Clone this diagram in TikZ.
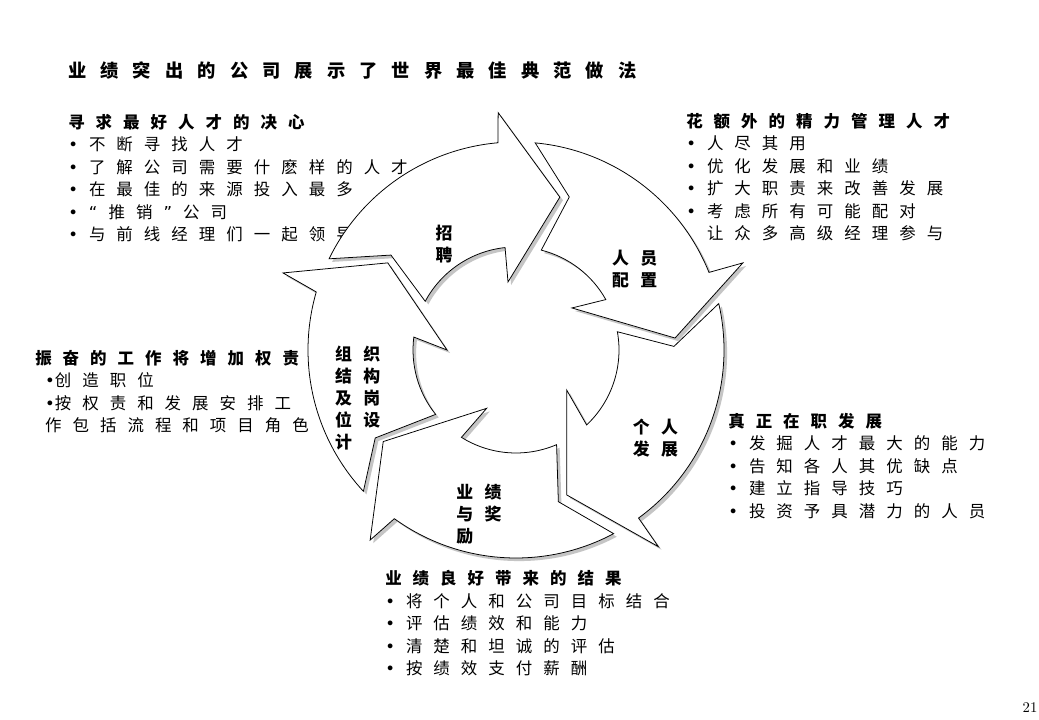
\documentclass[tikz,border=0pt]{standalone}
\usepackage{fontspec}
\newfontfamily\cjk{Noto Sans CJK SC}
\newfontfamily\symfont{DejaVu Sans}
\newcommand\bulletmark{{\symfont •}}
\usetikzlibrary{shadows}
\tikzset{
cyc arrow/.style={draw=black, line width=0.55pt, fill=white, line join=miter,
  drop shadow={shadow xshift=2.2pt, shadow yshift=-2.2pt, fill=black!45}},
blk/.style={anchor=north west, inner sep=0pt, align=left,
  font={\fontsize{11.7}{16}\cjk\spaceskip=0.67em\relax}},
ttl/.style={anchor=north west, inner sep=0pt,
  font={\fontsize{13}{16}\cjk\bfseries\spaceskip=0.77em\relax}},
lbl/.style={inner sep=0pt, align=left,
  font={\fontsize{12}{15.6}\cjk\bfseries\spaceskip=0.68em\relax}},
}

\begin{document}
\begin{tikzpicture}[x=0.025cm, y=0.025cm]
\useasboundingbox[fill=white] (0,0) rectangle (1039,720);

\node[ttl] (title) at (68,659) {业 绩 突 出 的 公 司 展 示 了 世 界 最 佳 典 范 做 法};

\node[blk] (seek) at (68,606) {\textbf{寻 求 最 好 人 才 的 决 心}\\
\bulletmark{} 不 断 寻 找 人 才\\
\bulletmark{} 了 解 公 司 需 要 什 麽 样 的 人 才\\
\bulletmark{} 在 最 佳 的 来 源 投 入 最 多\\
\bulletmark{} {\symfont “} 推 销 {\symfont ”} 公 司\\
\bulletmark{} 与 前 线 经 理 们 一 起 领 导};

\node[blk] (extra) at (686,607) {\textbf{花 额 外 的 精 力 管 理 人 才}\\
\bulletmark{} 人 尽 其 用\\
\bulletmark{} 优 化 发 展 和 业 绩\\
\bulletmark{} 扩 大 职 责 来 改 善 发 展\\
\bulletmark{} 考 虑 所 有 可 能 配 对\\
\phantom{\bulletmark} 让 众 多 高 级 经 理 参 与};

\node[blk] (work) at (35,370) {\textbf{振 奋 的 工 作 将 增 加 权 责}\\
\hspace*{7pt}\bulletmark 创 造 职 位\\
\hspace*{7pt}\bulletmark 按 权 责 和 发 展 安 排 工\\
\hspace*{7pt}作 包 括 流 程 和 项 目 角 色};

\node[blk] (job) at (728,307) {\textbf{真 正 在 职 发 展}\\
\bulletmark{} 发 掘 人 才 最 大 的 能 力\\
\bulletmark{} 告 知 各 人 其 优 缺 点\\
\bulletmark{} 建 立 指 导 技 巧\\
\bulletmark{} 投 资 予 具 潜 力 的 人 员};

\node[blk] (result) at (385,150) {\textbf{业 绩 良 好 带 来 的 结 果}\\
\bulletmark{} 将 个 人 和 公 司 目 标 结 合\\
\bulletmark{} 评 估 绩 效 和 能 力\\
\bulletmark{} 清 楚 和 坦 诚 的 评 估\\
\bulletmark{} 按 绩 效 支 付 薪 酬};

\node[inner sep=0pt, font=\fontsize{10.5}{12}\selectfont] (page) at (1030,12) {21};

\begin{scope}[shift={(516,370)}]
\draw[cyc arrow] (154:208) arc[start angle=154, end angle=95, radius=208]
  -- (94.3:238) -- (74:159) -- (96.7:68.5) -- (96.1:103)
  arc[start angle=96.1, end angle=151.8, radius=103] -- (142.8:157) -- cycle;
\draw[cyc arrow] (84.7:208) arc[start angle=84.7, end angle=21.9, radius=208]
  -- (21:243) -- (4.3:159.5) -- (36.9:70) -- (29.3:103)
  arc[start angle=29.3, end angle=75.8, radius=103] -- (70.8:162) -- cycle;
\draw[cyc arrow] (12.9:208) arc[start angle=12.9, end angle=-53.9, radius=208]
  -- (-54.1:242.8) -- (-70.7:153.6) -- (-38.3:64.6) -- (-46.7:103)
  arc[start angle=-46.7, end angle=10.2, radius=103] -- (1.3:158) -- cycle;
\draw[cyc arrow] (-62:208) arc[start angle=-62, end angle=-125.8, radius=208]
  -- (-127.5:239.6) -- (-145.4:161.3) -- (-116.7:65.3) -- (-122:103)
  arc[start angle=-122, end angle=-66.8, radius=103] -- (-74.4:157.5) -- cycle;
\draw[cyc arrow] (222.8:208) arc[start angle=222.8, end angle=163.8, radius=208]
  -- (161.7:245.4) -- (145.8:155) -- (180:69) -- (172.8:103)
  arc[start angle=172.8, end angle=218.7, radius=103] -- (212:166) -- cycle;
\end{scope}

\node[lbl, align=center] (hire) at (444,475.75) {招\\聘};
\node[lbl] (staff) at (634.75,451) {人 员\\配 置};
\node[lbl] (grow) at (655.5,282) {个 人\\发 展};
\node[lbl] (reward) at (479,206) {业 绩\\与 奖\\励};
\node[lbl] (org) at (357.75,322.25) {组 织\\结 构\\及 岗\\位 设\\计};
\end{tikzpicture}
\end{document}
